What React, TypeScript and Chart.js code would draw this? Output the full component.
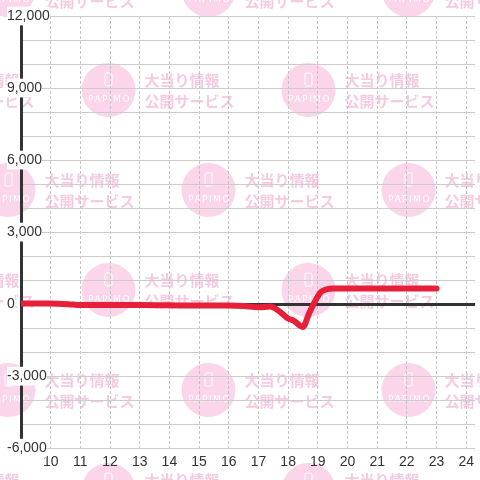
import React, { useEffect, useRef } from "react";
import { Chart, registerables } from "chart.js";

Chart.register(...registerables);

// Hours of the day (x) and cumulative difference (y)
const hours = [9, 10, 10.6, 11, 12, 13, 14, 15, 16, 16.5, 17, 17.4, 17.7, 18, 18.2, 18.4, 18.5, 18.7, 18.9, 19.1, 19.3, 19.5, 20, 21, 22, 23];
const values = [30, 30, 0, -40, -40, -40, -50, -60, -60, -80, -130, -100, -300, -600, -700, -900, -950, -400, 100, 500, 620, 650, 650, 650, 650, 650];

const xTickValues = [9, 10, 11, 12, 13, 14, 15, 16, 17, 18, 19, 20, 21, 22, 23, 24];
const yTickValues = [-6000, -5000, -4000, -3000, -2000, -1000, 0, 1000, 2000, 3000, 4000, 5000, 6000, 7000, 8000, 9000, 10000, 11000, 12000];
const yLabelStep = 3000;

const watermarkLine1 = "大当り情報";
const watermarkLine2 = "公開サービス";
const watermarkLogo = "PAPIMO";

const watermarkPlugin = {
  id: "watermark",
  beforeDraw(chart: any) {
    const ctx = chart.ctx as CanvasRenderingContext2D;
    ctx.save();
    ctx.fillStyle = "#ffffff";
    ctx.fillRect(0, 0, chart.width, chart.height);
    for (let k = 0; k < 6; k++) {
      const cy = -10 + k * 100;
      const x0 = k % 2 === 0 ? 8.5 : 108.5;
      for (let i = -1; i < 4; i++) {
        const cx = x0 + i * 200;
        ctx.beginPath();
        ctx.arc(cx, cy, 27, 0, Math.PI * 2);
        ctx.fillStyle = "#fbd5ea";
        ctx.fill();
        ctx.strokeStyle = "#ffffff";
        ctx.lineWidth = 1;
        ctx.beginPath();
        ctx.roundRect(cx - 3.5, cy - 17, 7, 13, 1.5);
        ctx.stroke();
        ctx.fillStyle = "#ffffff";
        ctx.font = "9px 'DejaVu Sans'";
        (ctx as any).letterSpacing = "1.5px";
        ctx.textAlign = "center";
        ctx.textBaseline = "middle";
        ctx.fillText(watermarkLogo, cx + 1, cy + 10);
        (ctx as any).letterSpacing = "0px";
        ctx.fillStyle = "#f5cbe1";
        ctx.font = "bold 15px 'Noto Sans CJK JP'";
        ctx.textAlign = "left";
        ctx.fillText(watermarkLine1, cx + 36, cy - 10);
        ctx.fillText(watermarkLine2, cx + 36, cy + 11);
      }
    }
    ctx.restore();
  },
};

export default function App() {
  const canvasRef = useRef<HTMLCanvasElement | null>(null);

  useEffect(() => {
    document.body.style.margin = "0";
    const canvas = canvasRef.current;
    if (!canvas) return;
    const chart = new Chart(canvas, {
      type: "line",
      data: {
        datasets: [
          {
            data: hours.map((h, i) => ({ x: h, y: values[i] })),
            borderColor: "#e81f38",
            borderWidth: 6,
            pointRadius: 0,
            borderCapStyle: "round",
            borderJoinStyle: "round",
            cubicInterpolationMode: "monotone",
            fill: false,
          },
        ],
      },
      options: {
        animation: false,
        responsive: false,
        maintainAspectRatio: false,
        layout: { padding: { left: 0, right: 0, top: 16, bottom: 3 } },
        plugins: { legend: { display: false }, tooltip: { enabled: false } },
        scales: {
          x: {
            type: "linear",
            min: 9,
            max: 24.3,
            afterBuildTicks: (scale: any) => {
              scale.ticks = xTickValues.map((v) => ({ value: v }));
            },
            grid: {
              color: (c: any) => (c.tick && c.tick.value === 9 ? "rgba(0,0,0,0)" : "#c4c4c4"),
              lineWidth: 1,
              drawTicks: false,
            },
            border: { display: false, dash: [3, 2] },
            ticks: {
              padding: 6,
              color: "#333",
              font: { family: "'Liberation Sans', Arial", size: 14 },
              callback: (v: any) => (v === 9 ? "" : String(v)),
              maxRotation: 0,
              autoSkip: false,
            },
          },
          y: {
            type: "linear",
            min: -6000,
            max: 12000,
            afterBuildTicks: (scale: any) => {
              scale.ticks = yTickValues.map((v) => ({ value: v }));
            },
            afterFit: (scale: any) => {
              scale.width = 21;
            },
            grid: {
              color: (c: any) => (c.tick && c.tick.value === 0 ? "#333333" : "#cccccc"),
              lineWidth: (c: any) => (c.tick && c.tick.value === 0 ? 3 : 1),
              drawTicks: false,
            },
            border: { display: true, color: "#333333", width: 3 },
            ticks: {
              mirror: true,
              padding: -14,
              color: "#333",
              font: { family: "'Liberation Sans', Arial", size: 14 },
              showLabelBackdrop: true,
              backdropColor: "#ffffff",
              backdropPadding: { top: 1, bottom: 1, left: 0, right: 0 },
              autoSkip: false,
              callback: (v: any) => (v % yLabelStep === 0 ? Number(v).toLocaleString("en-US") : ""),
            },
          },
        },
      },
      plugins: [watermarkPlugin],
    });
    return () => chart.destroy();
  }, []);

  return (
    <div style={{ position: "fixed", left: 0, top: 0, width: 480, height: 480 }}>
      <canvas ref={canvasRef} width={480} height={480} style={{ width: 480, height: 480 }} />
    </div>
  );
}
